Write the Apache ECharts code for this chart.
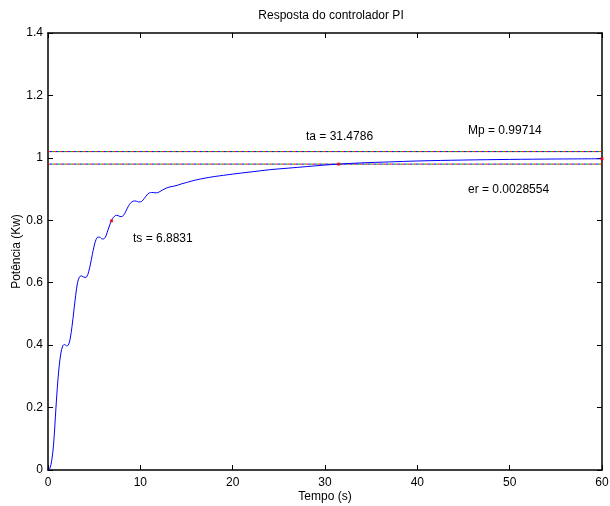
<!DOCTYPE html>
<html>
<head>
<meta charset="utf-8">
<script src="https://cdn.jsdelivr.net/npm/echarts@6/dist/echarts.min.js"></script>
<style>html,body{margin:0;padding:0;background:#fff}#c{width:610px;height:506px}</style>
</head>
<body>
<div id="c"></div>
<script>
var title = 'Resposta do controlador PI';
var xName = 'Tempo (s)';
var yName = 'Potência (Kw)';
var xTicks = [0, 10, 20, 30, 40, 50, 60];
var yTicks = [0, 0.2, 0.4, 0.6, 0.8, 1, 1.2, 1.4];
var time = [0,0.2,0.4,0.6,0.8,1.0,1.2,1.4,1.6,1.8,2.0,2.2,2.4,2.6,2.8,3.0,3.2,3.4,3.6,3.8,4.0,4.2,4.4,4.6,4.8,5.0,5.2,5.4,5.6,5.8,6.0,6.2,6.4,6.6,6.8,7.0,7.2,7.4,7.6,7.8,8.0,8.2,8.4,8.6,8.8,9.0,9.2,9.4,9.6,9.8,10.0,10.2,10.4,10.6,10.8,11.0,11.2,11.4,11.6,11.8,12.0,12.4,12.8,13.2,13.6,14.0,14.5,15,16,17,18,19,20,22,24,26,28,30,31.5,34,37,40,45,50,55,60];
var power = [0,0.005,0.03,0.08,0.17,0.26,0.33,0.375,0.398,0.402,0.398,0.400,0.42,0.46,0.51,0.56,0.60,0.618,0.622,0.619,0.617,0.619,0.635,0.66,0.69,0.718,0.738,0.746,0.746,0.741,0.740,0.745,0.76,0.778,0.794,0.806,0.813,0.816,0.815,0.812,0.812,0.817,0.827,0.839,0.85,0.857,0.861,0.862,0.861,0.859,0.859,0.862,0.869,0.877,0.884,0.888,0.889,0.889,0.888,0.888,0.89,0.897,0.903,0.907,0.909,0.912,0.917,0.921,0.929,0.935,0.94,0.944,0.948,0.955,0.962,0.967,0.972,0.977,0.980,0.984,0.987,0.990,0.993,0.995,0.9963,0.99714];
var bandUpper = 1.02;
var bandLower = 0.98;
var bandColors = ['#ff0000', '#00aa00', '#0000ff'];
var markTimes = [6.8831, 31.4786, 60];
var markValues = [0.798, 0.98, 0.99714];
var labels = ['ts = 6.8831', 'ta = 31.4786', 'Mp = 0.99714', 'er = 0.0028554'];

var curve = time.map(function (t, i) { return [t, power[i]]; });
var marks = markTimes.map(function (t, i) { return [t, markValues[i]]; });
var xmin = xTicks[0], xmax = xTicks[xTicks.length - 1];
var ymin = yTicks[0], ymax = yTicks[yTicks.length - 1];

var series = [];
[bandUpper, bandLower].forEach(function (v) {
  bandColors.forEach(function (c, k) {
    series.push({
      type: 'line', data: [[xmin, v], [xmax, v]], showSymbol: false, silent: true,
      lineStyle: { color: c, width: 1, type: [2, 4], dashOffset: k * 2 }, z: 2
    });
  });
});
series.push({
  type: 'line', data: curve, showSymbol: false, smooth: 0.35,
  lineStyle: { color: '#0000ff', width: 1 }, z: 3
});
series.push({
  type: 'scatter', data: marks, symbol: 'rect', symbolSize: 3,
  itemStyle: { color: '#ff0000' }, z: 4
});

var font = 'Liberation Sans, Arial, sans-serif';
var axisCommon = {
  type: 'value',
  axisLine: { show: true, onZero: false, lineStyle: { color: '#000', width: 1.5 } },
  axisTick: { show: true, inside: true, length: 5, lineStyle: { color: '#000' } },
  splitLine: { show: false }
};

var chart = echarts.init(document.getElementById('c'), null, { renderer: 'canvas' });
chart.setOption({
  animation: false,
  backgroundColor: '#fff',
  title: { text: title, left: 326, top: 5, textAlign: 'center',
    textStyle: { fontFamily: font, fontSize: 12, fontWeight: 'normal', color: '#000' } },
  grid: { left: 48, right: 8, top: 33, bottom: 36, containLabel: false, outerBoundsMode: 'none' },
  xAxis: [
    Object.assign({}, axisCommon, { min: xmin, max: xmax, interval: 10, position: 'bottom',
      name: xName, nameLocation: 'middle', nameGap: 21, nameMoveOverlap: false,
      nameTextStyle: { fontFamily: font, fontSize: 12, color: '#000' },
      axisLabel: { fontFamily: font, fontSize: 12, color: '#000', margin: 7 } }),
    Object.assign({}, axisCommon, { min: xmin, max: xmax, interval: 10, position: 'top',
      axisLabel: { show: false } })
  ],
  yAxis: [
    Object.assign({}, axisCommon, { min: ymin, max: ymax, interval: 0.2, position: 'left',
      name: yName, nameLocation: 'middle', nameGap: 25, nameMoveOverlap: false,
      nameTextStyle: { fontFamily: font, fontSize: 12, color: '#000' },
      axisLabel: { fontFamily: font, fontSize: 12, color: '#000', margin: 5,
        formatter: function (v) { return String(Math.round(v * 10) / 10); } } }),
    Object.assign({}, axisCommon, { min: ymin, max: ymax, interval: 0.2, position: 'right',
      axisLabel: { show: false } })
  ],
  graphic: [
    { type: 'text', left: 133, top: 233, style: { text: labels[0], font: '12px ' + font, fill: '#000' } },
    { type: 'text', left: 306, top: 131, style: { text: labels[1], font: '12px ' + font, fill: '#000' } },
    { type: 'text', left: 468, top: 125, style: { text: labels[2], font: '12px ' + font, fill: '#000' } },
    { type: 'text', left: 468, top: 184, style: { text: labels[3], font: '12px ' + font, fill: '#000' } }
  ],
  series: series
});
</script>
</body>
</html>
